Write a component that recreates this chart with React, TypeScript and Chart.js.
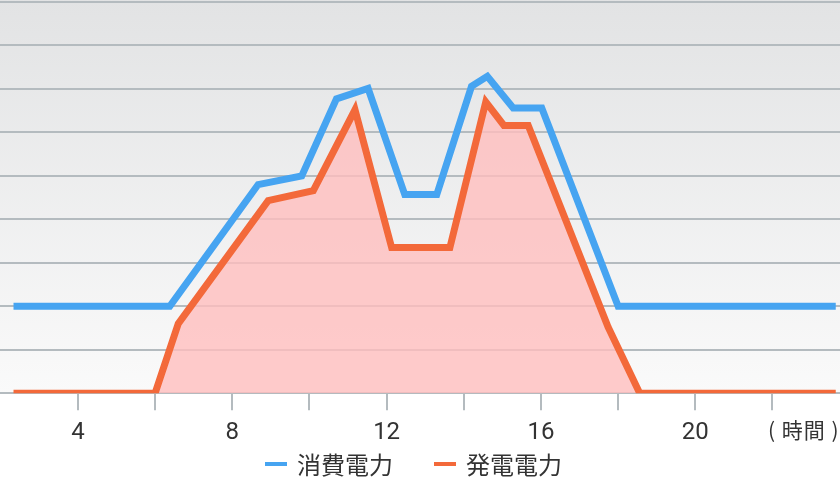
import { useEffect, useRef } from "react";
import { Chart, registerables } from "chart.js";

Chart.register(...registerables);

// 消費電力 (blue)
const consumptionHours = [2.33, 6.38, 8.67, 9.8, 10.7, 11.52, 12.47, 13.3, 14.2, 14.61, 15.28, 16.02, 18.0, 23.64];
const consumptionValues = [2, 2, 4.8, 5.0, 6.77, 7.01, 4.57, 4.57, 7.06, 7.29, 6.56, 6.56, 2, 2];

// 発電電力 (orange)
const generationHours = [2.33, 6.0, 6.6, 8.93, 10.1, 11.18, 12.13, 13.64, 14.57, 15.04, 15.67, 17.74, 18.56, 23.64];
const generationValues = [0, 0, 1.6, 4.43, 4.66, 6.52, 3.35, 3.35, 6.7, 6.16, 6.16, 1.52, 0, 0];

const tickHours = [4, 6, 8, 10, 12, 14, 16, 18, 20, 22];
const labeledHours = [4, 8, 12, 16, 20];
const seriesNames = ["消費電力", "発電電力"];
const unitLabel = "( 時間 )";

const BLUE = "#46a4f1";
const ORANGE = "#f3693a";
const GRID = "#b4bbbf";
const TEXT = "#333333";
const CJK = "'Noto Sans CJK JP', sans-serif";

const areaBackground = {
  id: "areaBackground",
  beforeDraw(chart: any) {
    const { ctx, chartArea } = chart;
    if (!chartArea) return;
    const g = ctx.createLinearGradient(0, 0, 0, chartArea.bottom);
    g.addColorStop(0, "#e2e3e4");
    g.addColorStop(1, "#fafafa");
    ctx.save();
    ctx.fillStyle = g;
    ctx.fillRect(0, 0, chart.width, chartArea.bottom);
    ctx.restore();
  },
};

export default function App() {
  const chartRef = useRef<HTMLCanvasElement>(null);
  const chartInstance = useRef<Chart | null>(null);

  useEffect(() => {
    document.body.style.margin = "0";
    if (!chartRef.current) return;
    if (chartInstance.current) chartInstance.current.destroy();

    const ctx = chartRef.current.getContext("2d");
    if (!ctx) return;

    chartInstance.current = new Chart(ctx, {
      type: "line",
      data: {
        datasets: [
          {
            label: seriesNames[0],
            data: consumptionHours.map((h, i) => ({ x: h, y: consumptionValues[i] })),
            borderColor: BLUE,
            borderWidth: 7,
            pointRadius: 0,
            fill: false,
            tension: 0,
          },
          {
            label: seriesNames[1],
            data: generationHours.map((h, i) => ({ x: h, y: generationValues[i] })),
            borderColor: ORANGE,
            backgroundColor: "rgba(255,190,190,0.8)",
            borderWidth: 7,
            pointRadius: 0,
            fill: "origin",
            tension: 0,
          },
        ],
      },
      options: {
        responsive: true,
        maintainAspectRatio: false,
        animation: false,
        layout: { padding: { top: 2, bottom: 27, left: 0, right: 0 } },
        plugins: {
          legend: { display: false },
          tooltip: { enabled: false },
        },
        scales: {
          x: {
            type: "linear",
            min: 1.98,
            max: 23.75,
            afterBuildTicks: (scale: any) => {
              scale.ticks = tickHours.map((v) => ({ value: v }));
            },
            grid: {
              display: true,
              drawOnChartArea: false,
              drawTicks: true,
              tickLength: 17,
              color: GRID,
              lineWidth: 2,
            },
            border: { display: false },
            ticks: {
              autoSkip: false,
              maxRotation: 0,
              padding: 8.5,
              color: TEXT,
              font: { family: "Roboto, sans-serif", size: 24 },
              callback: (v: any) => (labeledHours.includes(Number(v)) ? String(v) : ""),
            },
          },
          y: {
            min: 0,
            max: 9,
            ticks: { display: false, stepSize: 1 },
            grid: { color: GRID, lineWidth: 2, drawTicks: false },
            border: { display: false },
          },
        },
      },
      plugins: [areaBackground],
    } as any);

    return () => {
      if (chartInstance.current) {
        chartInstance.current.destroy();
        chartInstance.current = null;
      }
    };
  }, []);

  const legendItem = (name: string, color: string) => (
    <div style={{ display: "flex", alignItems: "center" }}>
      <span style={{ display: "inline-block", width: 22, height: 4, background: color, marginRight: 10 }} />
      <span style={{ font: `24px ${CJK}`, color: TEXT, lineHeight: "30px" }}>{name}</span>
    </div>
  );

  return (
    <div style={{ position: "relative", width: 840, height: 483, background: "#ffffff" }}>
      <canvas ref={chartRef} width={840} height={483}></canvas>
      <div style={{ position: "absolute", left: 768, top: 415, font: `21px ${CJK}`, color: TEXT, lineHeight: "28px", whiteSpace: "pre", letterSpacing: 1 }}>
        {unitLabel}
      </div>
      <div style={{ position: "absolute", left: 265, top: 449, display: "flex", gap: 41 }}>
        {legendItem(seriesNames[0], BLUE)}
        {legendItem(seriesNames[1], ORANGE)}
      </div>
    </div>
  );
}
